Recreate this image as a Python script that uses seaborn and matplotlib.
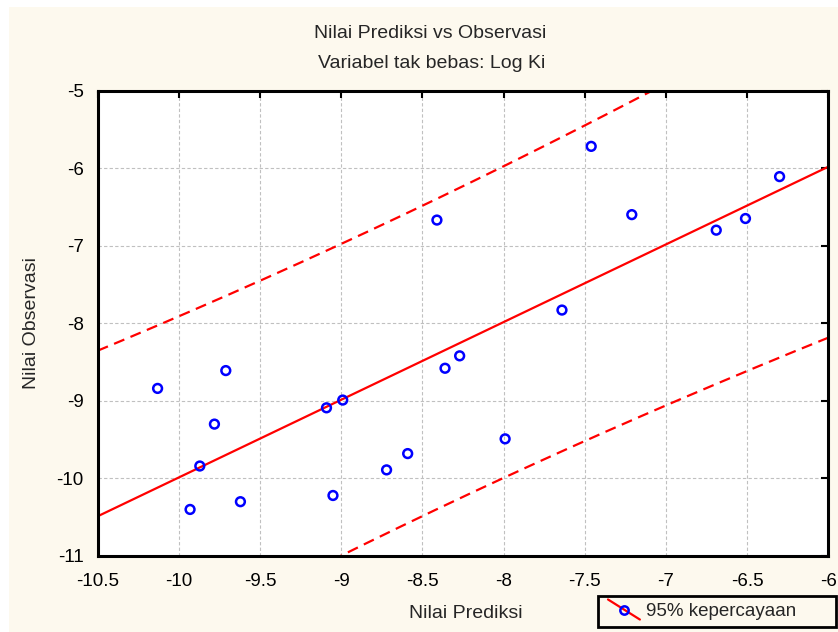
import numpy as np
import pandas as pd
import matplotlib
matplotlib.use("Agg")
import matplotlib.pyplot as plt
import seaborn as sns
from matplotlib.lines import Line2D
from matplotlib.legend_handler import HandlerBase
from matplotlib.patches import Rectangle

# values
prediksi = [-10.13, -9.93, -9.87, -9.78, -9.71, -9.62, -9.09, -9.05, -8.99, -8.72, -8.59,
            -8.41, -8.36, -8.27, -7.99, -7.64, -7.46, -7.21, -6.69, -6.51, -6.30]
observasi = [-8.84, -10.40, -9.84, -9.30, -8.61, -10.30, -9.09, -10.22, -8.99, -9.89, -9.68,
             -6.67, -8.58, -8.42, -9.49, -7.83, -5.72, -6.60, -6.80, -6.65, -6.11]
x_ticks = [-10.5, -10, -9.5, -9, -8.5, -8, -7.5, -7, -6.5, -6]
y_ticks = [-11, -10, -9, -8, -7, -6, -5]

BG = "#fdf9ee"

df = pd.DataFrame({"pred": prediksi, "obs": observasi})

# fit + 95% prediction band
x = df["pred"].values
y = df["obs"].values
n = len(x)
slope, icpt = np.polyfit(x, y, 1)
resid = y - (slope * x + icpt)
s = np.sqrt((resid ** 2).sum() / (n - 2))
sxx = ((x - x.mean()) ** 2).sum()
t = 2.093  # t(0.975, 19)
xs = np.linspace(-10.6, -5.9, 200)
fit = slope * xs + icpt
half = t * s * np.sqrt(1 + 1 / n + (xs - x.mean()) ** 2 / sxx)
band = pd.DataFrame({"x": xs, "fit": fit, "lo": fit - half, "hi": fit + half})

sns.set_style("white")
plt.rcParams["font.family"] = ["Liberation Sans", "DejaVu Sans"]

fig = plt.figure(figsize=(8.38, 6.32), dpi=100, facecolor="white")
fig.patches.append(Rectangle((9 / 838, 0), 1, 1 - 7 / 632, transform=fig.transFigure,
                             facecolor=BG, edgecolor="none", zorder=-10))
ax = fig.add_axes([97.5 / 838, 1 - 556 / 632, (828.3 - 97.5) / 838, (556 - 90.5) / 632])
ax.set_facecolor("white")

dash = (0, (5, 3))
sns.lineplot(data=band, x="x", y="fit", ax=ax, color="red", lw=1.6, sort=False)
sns.lineplot(data=band, x="x", y="hi", ax=ax, color="red", lw=1.6, sort=False, linestyle=dash)
sns.lineplot(data=band, x="x", y="lo", ax=ax, color="red", lw=1.6, sort=False, linestyle=dash)
sns.scatterplot(data=df, x="pred", y="obs", ax=ax, marker="o", s=40,
                facecolor="none", edgecolor="blue", linewidth=1.8, zorder=5)

ax.set_xlim(-10.5, -6)
ax.set_ylim(-11, -5)
ax.set_xticks(x_ticks)
ax.set_yticks(y_ticks)
ax.set_xticklabels([f"{v:g}" for v in x_ticks])
ax.set_yticklabels([f"{v:g}" for v in y_ticks])
ax.grid(True, color="#c0c0c0", linestyle=(0, (3, 2)), linewidth=0.8)
ax.tick_params(direction="in", length=5, width=1.5, top=True, right=True,
               labelsize=13.5, colors="black")
ax.tick_params(axis="x", pad=12)
ax.tick_params(axis="y", pad=10)
for sp in ax.spines.values():
    sp.set_color("black")
    sp.set_linewidth(2.2)

ax.set_xlabel("")
ax.set_ylabel("")
fig.text(466 / 838, 1 - 613 / 632, "Nilai Prediksi", ha="center", va="center", fontsize=14)
fig.text(31 / 838, 1 - 323 / 632, "Nilai Observasi", ha="center", va="center",
         rotation=90, fontsize=14)
fig.text(430 / 838, 1 - 33 / 632, "Nilai Prediksi vs Observasi", ha="center", va="center",
         fontsize=14)
fig.text(432 / 838, 1 - 63 / 632, "Variabel tak bebas: Log Ki", ha="center", va="center",
         fontsize=14)


class DiagHandler(HandlerBase):
    def create_artists(self, legend, orig, xd, yd, w, h, fontsize, trans):
        ln = Line2D([xd, xd + w], [yd + h + 2.5, yd - 2.5], color="red", lw=1.6,
                    transform=trans)
        mk = Line2D([xd + w / 2], [yd + h / 2], marker="o", markersize=6, markerfacecolor="none",
                    markeredgecolor="blue", markeredgewidth=1.8, linestyle="none", transform=trans)
        return [ln, mk]


# legend box drawn by hand so it keeps the wide right margin of the original
fig.patches.append(Rectangle((598 / 838, 1 - 627 / 632), (836 - 598) / 838, (627 - 596) / 632,
                             transform=fig.transFigure, facecolor=BG, edgecolor="black",
                             linewidth=2, zorder=5))
proxy = Line2D([], [], color="red")
leg = fig.legend([proxy], ["95% kepercayaan"], handler_map={Line2D: DiagHandler()},
                 loc="center left", bbox_to_anchor=(608 / 838, 1 - 611.5 / 632),
                 fontsize=13.5, frameon=False, borderpad=0,
                 handlelength=1.7, handletextpad=0.35, borderaxespad=0)
leg.set_zorder(6)

fig.savefig("out.png", dpi=100, facecolor=fig.get_facecolor())
